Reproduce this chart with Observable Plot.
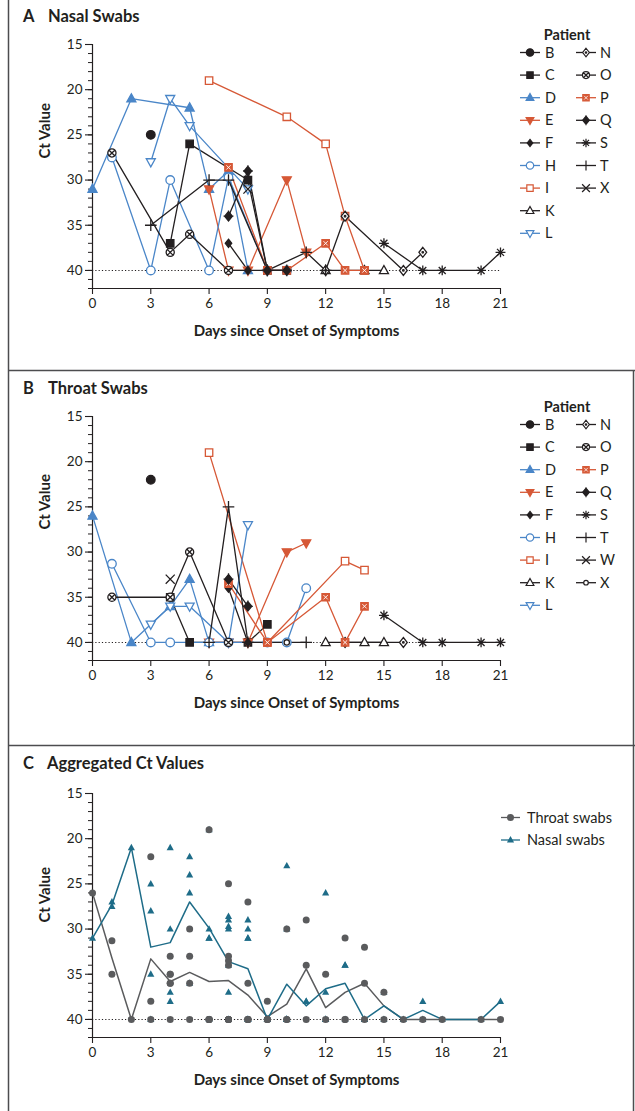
<!DOCTYPE html>
<html>
<head>
<meta charset="utf-8">
<script src="https://cdn.jsdelivr.net/npm/d3@7"></script>
<script src="https://cdn.jsdelivr.net/npm/@observablehq/plot@0.6"></script>
<style>
  html, body { margin: 0; padding: 0; background: #fff; }
  body { font-family: Lato, "Open Sans", sans-serif; color: #231f20; }
  #page { position: relative; width: 635px; height: 1111px; overflow: hidden; background: #fff; }
  .panel { position: absolute; left: 0; width: 635px; height: 370px; }
  .chart { position: absolute; left: 0; top: 0; }
  .legend { position: absolute; left: 0; top: 0; pointer-events: none; }
  .ptitle { position: absolute; top: 8px; left: 0; font-weight: bold; font-size: 16.5px; line-height: 16px; white-space: nowrap; }
  .ptitle span { position: absolute; }
  #borders { position: absolute; left: 0; top: 0; pointer-events: none; }
</style>
</head>
<body>
<div id="page">
  <div class="panel" id="panelA" style="top:0px">
    <div class="chart"></div>
    <svg class="legend" width="635" height="370"></svg>
    <div class="ptitle"><span style="left:23px">A</span><span style="left:48px">Nasal Swabs</span></div>
  </div>
  <div class="panel" id="panelB" style="top:372px">
    <div class="chart"></div>
    <svg class="legend" width="635" height="370"></svg>
    <div class="ptitle"><span style="left:23px">B</span><span style="left:48px">Throat Swabs</span></div>
  </div>
  <div class="panel" id="panelC" style="top:749px">
    <div class="chart"></div>
    <svg class="legend" width="635" height="370"></svg>
    <div class="ptitle" style="top:6px"><span style="left:23px">C</span><span style="left:47px">Aggregated Ct Values</span></div>
  </div>
  <svg id="borders" width="635" height="1111"></svg>
</div>
<script>
// ---------------- DATA (day, Ct value) ----------------
const X_DOMAIN = [0, 21];
const Y_DOMAIN = [15, 42];
const CT_LIMIT = 40;
const xTicks = [0, 3, 6, 9, 12, 15, 18, 21];
const yTicks = [15, 20, 25, 30, 35, 40];

// Panel A: nasal swabs, per patient
const nasalB = [[3, 25]];
const nasalC = [[4, 37], [5, 26], [8, 30], [9, 40], [10, 40]];
const nasalD = [[0, 31], [2, 21], [5, 22], [6, 31], [7, 29], [8, 40]];
const nasalE = [[6, 31], [7, 40], [8, 40], [10, 30], [11, 38]];
const nasalF = [[7, 37], [8, 40]];
const nasalH = [[1, 27.5], [3, 40], [4, 30], [6, 40], [7, 29.7], [9, 40], [10, 40]];
const nasalI = [[6, 19], [10, 23], [12, 26], [13, 34], [14, 40]];
const nasalK = [[12, 40], [14, 40], [15, 40]];
const nasalL = [[3, 28], [4, 21], [5, 24], [8, 31]];
const nasalN = [[12, 40], [13, 34], [16, 40], [17, 38]];
const nasalO = [[1, 27], [4, 38], [5, 36], [7, 40], [10, 40]];
const nasalP = [[7, 28.6], [9, 40], [10, 40], [12, 37], [13, 40], [14, 40]];
const nasalQ = [[7, 34], [8, 29], [9, 40], [10, 40]];
const nasalS = [[15, 37], [17, 40], [18, 40], [20, 40], [21, 38]];
const nasalT = [[3, 35], [6, 30], [7, 30], [9, 40], [11, 38], [12, 40]];
const nasalX = [[8, 31]];

// Panel B: throat swabs, per patient
const throatB = [[3, 22]];
const throatC = [[4, 35], [5, 40], [8, 40], [9, 38]];
const throatD = [[0, 26], [2, 40], [4, 36], [5, 33], [6, 40]];
const throatE = [[6, 40], [7, 40], [8, 40], [10, 30], [11, 29]];
const throatF = [[7, 34], [8, 40]];
const throatH = [[1, 31.3], [3, 40], [4, 40], [6, 40], [7, 40], [9, 40], [10, 40], [11, 34]];
const throatI = [[6, 19], [9, 40], [13, 31], [14, 32]];
const throatK = [[12, 40], [14, 40], [15, 40]];
const throatL = [[3, 38], [4, 36], [5, 36], [7, 40], [8, 27]];
const throatN = [[13, 40], [16, 40]];
const throatO = [[1, 35], [4, 35], [5, 30], [7, 40]];
const throatP = [[7, 33.5], [9, 40], [12, 35], [13, 40], [14, 36]];
const throatQ = [[7, 33], [8, 36]];
const throatS = [[15, 37], [17, 40], [18, 40], [20, 40], [21, 40]];
const throatT = [[6, 40], [7, 25], [8, 40], [11, 40]];
const throatW = [[4, 33]];
const throatX = [[10, 40]];

// Panel C: daily aggregated (mean) lines
const meanDays   = [0, 1, 2, 3, 4, 5, 6, 7, 8, 9, 10, 11, 12, 13, 14, 15, 16, 17, 18, 20, 21];
const throatMean = [26.0, 33.2, 40, 33.3, 35.8, 34.8, 35.8, 35.7, 37.3, 39.7, 38.3, 34.4, 38.7, 37.0, 36.0, 38.5, 40, 40, 40, 40, 40];
const nasalMean  = [31.0, 27.3, 21.0, 32.0, 31.5, 27.0, 29.9, 33.6, 34.4, 40, 36.1, 38.5, 36.6, 36.0, 40, 38.5, 40, 39.0, 40, 40, 38.0];

const nasalPatients  = ["B", "C", "D", "E", "F", "H", "I", "K", "L", "N", "O", "P", "Q", "S", "T", "X"];
const throatPatients = ["B", "C", "D", "E", "F", "H", "I", "K", "L", "N", "O", "P", "Q", "S", "T", "W", "X"];
const nasalLegendCol1 = ["B", "C", "D", "E", "F", "H", "I", "K", "L"];
const nasalLegendCol2 = ["N", "O", "P", "Q", "S", "T", "X"];
const throatLegendCol1 = ["B", "C", "D", "E", "F", "H", "I", "K", "L"];
const throatLegendCol2 = ["N", "O", "P", "Q", "S", "T", "W", "X"];

const nasalSeries = {B: nasalB, C: nasalC, D: nasalD, E: nasalE, F: nasalF, H: nasalH, I: nasalI, K: nasalK,
  L: nasalL, N: nasalN, O: nasalO, P: nasalP, Q: nasalQ, S: nasalS, T: nasalT, X: nasalX};
const throatSeries = {B: throatB, C: throatC, D: throatD, E: throatE, F: throatF, H: throatH, I: throatI, K: throatK,
  L: throatL, N: throatN, O: throatO, P: throatP, Q: throatQ, S: throatS, T: throatT, W: throatW, X: throatX};

// ---------------- STYLES ----------------
const BLACK = "#231f20", BLUE = "#4a86c8", RED = "#d65836", GRAY = "#5a5b5d", TEAL = "#1e6c88";
const R_MARK = 4.3;
const R_LEGEND = 3.7;

const rad = s => Math.sqrt(s / Math.PI);
const SYM = {
  circle: {draw(c, s) { const r = rad(s); c.moveTo(r, 0); c.arc(0, 0, r, 0, 2 * Math.PI); }},
  smallCircle: {draw(c, s) { const r = rad(s) * 0.62; c.moveTo(r, 0); c.arc(0, 0, r, 0, 2 * Math.PI); }},
  square: {draw(c, s) { const h = rad(s) * 0.86; c.moveTo(-h, -h); c.lineTo(h, -h); c.lineTo(h, h); c.lineTo(-h, h); c.closePath(); }},
  triUp: {draw(c, s) { const r = rad(s); c.moveTo(0, -1.15 * r); c.lineTo(1.05 * r, 0.75 * r); c.lineTo(-1.05 * r, 0.75 * r); c.closePath(); }},
  triDown: {draw(c, s) { const r = rad(s); c.moveTo(0, 1.15 * r); c.lineTo(1.05 * r, -0.75 * r); c.lineTo(-1.05 * r, -0.75 * r); c.closePath(); }},
  diamond: {draw(c, s) { const r = rad(s); c.moveTo(0, -0.95 * r); c.lineTo(0.75 * r, 0); c.lineTo(0, 0.95 * r); c.lineTo(-0.75 * r, 0); c.closePath(); }},
  diamondDot: {draw(c, s) { const r = rad(s); c.moveTo(0, -1.15 * r); c.lineTo(0.9 * r, 0); c.lineTo(0, 1.15 * r); c.lineTo(-0.9 * r, 0); c.closePath();
    const d = 0.18 * r; c.moveTo(d, 0); c.arc(0, 0, d, 0, 2 * Math.PI); }},
  circleX: {draw(c, s) { const r = rad(s) * 0.95; c.moveTo(r, 0); c.arc(0, 0, r, 0, 2 * Math.PI);
    const k = 0.67 * r; c.moveTo(-k, -k); c.lineTo(k, k); c.moveTo(k, -k); c.lineTo(-k, k); }},
  diamondCross: {draw(c, s) { const r = rad(s); c.moveTo(0, -1.1 * r); c.lineTo(0.9 * r, 0); c.lineTo(0, 1.1 * r); c.lineTo(-0.9 * r, 0); c.closePath();
    c.moveTo(0, -1.35 * r); c.lineTo(0, 1.35 * r); c.moveTo(-1.15 * r, 0); c.lineTo(1.15 * r, 0); }},
  asterisk: {draw(c, s) { const r = rad(s) * 1.15; for (let a = 0; a < 4; a++) { const t = a * Math.PI / 4;
    c.moveTo(-r * Math.cos(t), -r * Math.sin(t)); c.lineTo(r * Math.cos(t), r * Math.sin(t)); } }},
  plus: {draw(c, s) { const r = rad(s) * 1.35; c.moveTo(-r, 0); c.lineTo(r, 0); c.moveTo(0, -r); c.lineTo(0, r); }},
  times: {draw(c, s) { const r = rad(s) * 1.05; c.moveTo(-r, -r); c.lineTo(r, r); c.moveTo(r, -r); c.lineTo(-r, r); }},
  timesSmall: {draw(c, s) { const r = rad(s) * 0.5; c.moveTo(-r, -r); c.lineTo(r, r); c.moveTo(r, -r); c.lineTo(-r, r); }}
};

const baseStyle = {
  B: {color: BLACK, sym: "circle", fill: BLACK},
  C: {color: BLACK, sym: "square", fill: BLACK},
  D: {color: BLUE, sym: "triUp", fill: BLUE},
  E: {color: RED, sym: "triDown", fill: RED},
  F: {color: BLACK, sym: "diamond", fill: BLACK},
  H: {color: BLUE, sym: "circle", fill: "white"},
  I: {color: RED, sym: "square", fill: "white"},
  K: {color: BLACK, sym: "triUp", fill: "white"},
  L: {color: BLUE, sym: "triDown", fill: "white"},
  N: {color: BLACK, sym: "diamondDot", fill: "white"},
  O: {color: BLACK, sym: "circleX", fill: "white"},
  P: {color: RED, sym: "square", fill: RED, overlay: "timesSmall"},
  Q: {color: BLACK, sym: "diamondCross", fill: BLACK},
  S: {color: BLACK, sym: "asterisk", fill: "none"},
  T: {color: BLACK, sym: "plus", fill: "none"},
  W: {color: BLACK, sym: "times", fill: "none"}
};
const nasalStyle = {...baseStyle, X: {color: BLACK, sym: "times", fill: "none"}};
const throatStyle = {...baseStyle, X: {color: BLACK, sym: "smallCircle", fill: "white"}};

// ---------------- CHARTS ----------------
const xy = {x: d => d[0], y: d => d[1]};
const frameOpts = {
  width: 635, height: 370,
  marginTop: 44, marginBottom: 82, marginLeft: 92, marginRight: 135,
  x: {domain: X_DOMAIN},
  y: {domain: Y_DOMAIN, reverse: true},
  style: {fontFamily: "Lato, 'Open Sans', sans-serif", fontSize: "13.5px", color: BLACK, background: "transparent"}
};

function axesMarks(yLabelDy) {
  return [
    Plot.ruleY([CT_LIMIT], {stroke: BLACK, strokeWidth: 1.1, strokeDasharray: "1.2,2.1"}),
    Plot.axisY({ticks: d3.range(Y_DOMAIN[0], Y_DOMAIN[1] + 1), tickSize: 4, fill: "none", label: null, strokeWidth: 1}),
    Plot.axisY({ticks: yTicks, tickSize: 7, tickPadding: 3, label: null, fontSize: 13.5, strokeWidth: 1.1}),
    Plot.axisX({ticks: xTicks, tickSize: 6, tickPadding: 4, label: null, fontSize: 13.5, strokeWidth: 1.1}),
    Plot.ruleX([X_DOMAIN[0]], {stroke: BLACK, strokeWidth: 1.2}),
    Plot.ruleY([Y_DOMAIN[1]], {stroke: BLACK, strokeWidth: 1.2}),
    Plot.text(["Days since Onset of Symptoms"], {text: d => d, frameAnchor: "bottom", dy: 47, fontSize: 15, fontWeight: "bold", fill: BLACK}),
    Plot.text(["Ct Value"], {text: d => d, frameAnchor: "left", rotate: -90, dx: -47, dy: yLabelDy, fontSize: 15, fontWeight: "bold", fill: BLACK})
  ];
}

function patientChart(patients, seriesOf, style, yLabelDy) {
  const marks = axesMarks(yLabelDy);
  for (const p of patients) {
    marks.push(Plot.line(seriesOf[p], {...xy, stroke: style[p].color, strokeWidth: 1.3}));
  }
  for (const p of patients) {
    const st = style[p];
    marks.push(Plot.dot(seriesOf[p], {...xy, symbol: SYM[st.sym], r: R_MARK, fill: st.fill, stroke: st.color, strokeWidth: 1.3}));
    if (st.overlay) {
      marks.push(Plot.dot(seriesOf[p], {...xy, symbol: SYM[st.overlay], r: R_MARK, fill: "none", stroke: "white", strokeWidth: 0.9}));
    }
  }
  return Plot.plot({...frameOpts, marks});
}

function aggregateChart() {
  const nasalAll = nasalPatients.flatMap(p => nasalSeries[p]);
  const throatAll = throatPatients.flatMap(p => throatSeries[p]);
  const marks = axesMarks(7);
  marks.push(
    Plot.line(throatMean, {x: meanDays, y: throatMean, stroke: GRAY, strokeWidth: 1.5}),
    Plot.line(nasalMean, {x: meanDays, y: nasalMean, stroke: TEAL, strokeWidth: 1.5}),
    Plot.dot(nasalAll, {...xy, symbol: SYM.triUp, r: 3.4, fill: TEAL, stroke: "none"}),
    Plot.dot(throatAll, {...xy, symbol: SYM.circle, r: 3.5, fill: GRAY, stroke: "none"})
  );
  return Plot.plot({...frameOpts, marks});
}

document.querySelector("#panelA .chart").append(patientChart(nasalPatients, nasalSeries, nasalStyle, -8));
document.querySelector("#panelB .chart").append(patientChart(throatPatients, throatSeries, throatStyle, -9));
document.querySelector("#panelC .chart").append(aggregateChart());

// ---------------- LEGENDS ----------------
function legendEntry(svg, x, y, label, st, lineHalf, labelX) {
  const g = svg.append("g").attr("transform", `translate(${x},${y})`);
  g.append("line").attr("x1", -lineHalf).attr("x2", lineHalf).attr("y1", 0).attr("y2", 0)
    .attr("stroke", st.color).attr("stroke-width", 1.3);
  const size = Math.PI * st.r * st.r;
  g.append("path").attr("d", d3.symbol(SYM[st.sym], size)())
    .attr("fill", st.fill).attr("stroke", st.stroke).attr("stroke-width", 1.2);
  if (st.overlay) {
    g.append("path").attr("d", d3.symbol(SYM[st.overlay], size)())
      .attr("fill", "none").attr("stroke", "white").attr("stroke-width", 0.8);
  }
  svg.append("text").attr("x", labelX).attr("y", y).attr("dy", "0.35em")
    .attr("font-size", 14.5).attr("fill", BLACK).attr("font-family", "Lato, 'Open Sans', sans-serif").text(label);
}

function patientLegend(sel, col1, col2, style) {
  const svg = d3.select(sel);
  svg.append("text").attr("x", 567).attr("y", 34.5).attr("dy", "0.35em").attr("text-anchor", "middle")
    .attr("font-size", 14.5).attr("font-weight", "bold").attr("fill", BLACK)
    .attr("font-family", "Lato, 'Open Sans', sans-serif").text("Patient");
  const rowY = i => 52.5 + i * 22.6;
  col1.forEach((p, i) => legendEntry(svg, 530, rowY(i), p, {...style[p], stroke: style[p].color, r: R_LEGEND}, 10, 545));
  col2.forEach((p, i) => legendEntry(svg, 586, rowY(i), p, {...style[p], stroke: style[p].color, r: R_LEGEND}, 10, 600));
}
patientLegend("#panelA .legend", nasalLegendCol1, nasalLegendCol2, nasalStyle);
patientLegend("#panelB .legend", throatLegendCol1, throatLegendCol2, throatStyle);

{
  const svg = d3.select("#panelC .legend");
  legendEntry(svg, 510.5, 68.5, "Throat swabs", {color: GRAY, sym: "circle", fill: GRAY, stroke: "none", r: 3.5}, 9.5, 527);
  legendEntry(svg, 510.5, 91, "Nasal swabs", {color: TEAL, sym: "triUp", fill: TEAL, stroke: "none", r: 3.4}, 9.5, 527);
}

// ---------------- PANEL BORDERS ----------------
{
  const b = d3.select("#borders");
  const st = s => s.attr("stroke", "#4d4d4f").attr("stroke-width", 1.5);
  st(b.append("line").attr("x1", 8.5).attr("x2", 8.5).attr("y1", 0).attr("y2", 1111));
  st(b.append("line").attr("x1", 8).attr("x2", 635).attr("y1", 370.5).attr("y2", 370.5));
  st(b.append("line").attr("x1", 8).attr("x2", 635).attr("y1", 745.5).attr("y2", 745.5));
  st(b.append("line").attr("x1", 633.5).attr("x2", 633.5).attr("y1", 370).attr("y2", 1111));
}
</script>
</body>
</html>
